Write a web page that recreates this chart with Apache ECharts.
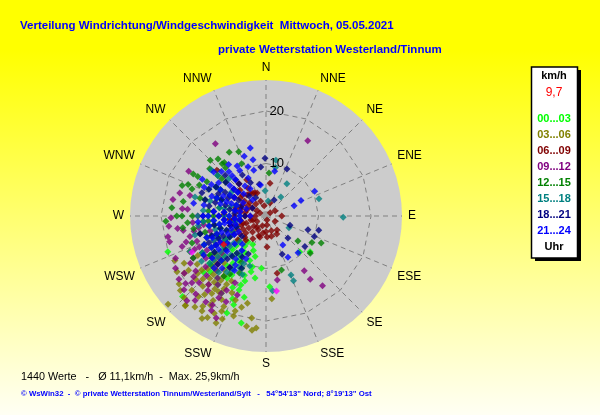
<!DOCTYPE html>
<html><head><meta charset="utf-8">
<script src="https://cdn.jsdelivr.net/npm/echarts@6/dist/echarts.min.js"></script>
<style>html,body{margin:0;padding:0;}#c{width:600px;height:415px;}</style>
</head><body><div id="c"></div>
<script>
// Direction labels (compass, clockwise from N)
const directions = ['N','NNE','NE','ENE','E','ESE','SE','SSE','S','SSW','SW','WSW','W','WNW','NW','NNW'];
// Time groups (legend)
const groupLabels = ['00...03','03...06','06...09','09...12','12...15','15...18','18...21','21...24'];
const groupColors = ['#00ff00','#808000','#800000','#800080','#008000','#008080','#000080','#0000ff'];
// Each point: [speed km/h, direction deg]
const h00 = [[9.4,137],[10.8,129],[13.5,177],[20.9,193],[19.9,202],[19.9,250],[22.1,226],
 [8,210],[9,200],[10,195],[11,205],[12,215],[13,210],[14,200],[15,205],[16,195],[10,220],[12,225],[14,222],[8,225],
 [7,215],[9,235],[11,240],[13,235],[15,218],[17,210],[18,200],[6,205],[10,185],[12,190],[16,228],[11,215],[7,228],[9,218],[13,198],
 [7,200],[8,195],[9,212],[11,195],[12,200],[14,212],[15,200],[9,225],[10,232],[12,218],[14,230],
 [6,215],[10,212],[16,215],[17,202],[11,228],[15,225],[8,240],[10,248]];
const h03 = [[19.3,244],[21.6,229],[25.1,228],[22.9,222],[21.8,214],[21.3,203],[21.4,185],[21.3,190],[15.8,176],[22.3,210],[22.5,205],[21.9,187],[19.6,188],
 [14,225],[15,215],[16,210],[17,220],[18,228],[19,235],[20,225],[16,235],[17,200],[18,195],[19,205],[20,212],[15,240],[13,218],[14,208],[18,215],
 [20,198],[17,230],[12,232],[16,222],[19,218],[21,232],[18,240],[22,218],[23,212],[17,192],[16,204],
 [15,228],[16,218],[17,212],[18,222],[19,212],[20,220],[21,215],[14,215],[15,222],[16,230],[17,225],[18,208],[19,198],[20,205],[21,208],
 [13,228],[14,238],[16,245],[18,235],[20,238],[22,225],[23,222],[12,222],[15,210],[17,215]];
const h06 = [[5.3,325],[4.7,339],[1.0,53],[0.8,166],[3.3,190],[3.4,142],[3.8,288],[5.0,277],[2.6,253],[4.0,177],[2.6,17],[1.3,297],[4.6,253],[6.3,263],
 [7.8,332],[6.3,7],[12.8,313],[4.0,149],[6.3,327],[4.9,334],[5.4,318],[2.7,219],[4.2,196],[5.9,178],[5.7,225],[11.1,169],[1.7,174],
 [3,300],[4,310],[5,295],[6,305],[7,315],[2,240],[3,230],[4,235],[5,240],[6,245],[7,255],[3,160],[2,120],[4,200],[5,210],[6,220],[7,230],[8,320],
 [3,340],[2,350],[6,285],[7,300],[3,90],[2,60],[4,270],[5,262],[3,255],
 [3,270],[4,280],[5,285],[6,290],[4,250],[5,250],[6,255],[5,230],[6,235],[4,220],[3,210],[2,200],[3,180],[4,165],[2,300],[4,300],[5,305],
 [6,312],[3,320],[5,330],[7,265],[8,272],[6,270],[7,245],[2,270]];
const h09 = [[16.8,325],[16.4,29],[18.1,269],[19.1,258],[19.9,240],[20.5,234],[22.1,223],[20.8,210],[21.6,206],[19.8,211],[12.7,145],[14.7,145],[17.1,141],[12.4,170],[18.6,264],
 [12,250],[13,240],[14,235],[15,230],[16,225],[17,220],[18,230],[19,245],[15,255],[16,260],[14,265],[17,250],[13,225],[12,215],[11,230],[10,240],
 [11,255],[13,270],[15,275],[16,215],[18,218],[19,228],[17,238],[14,245],[12,262],[10,250],[20,215],[21,220],[18,205],[16,200],[9,232],[15,285],
 [17,300],[14,205],[17,285],[16,275],[18,280],
 [13,255],[14,250],[15,245],[16,240],[17,232],[18,225],[19,235],[20,230],[21,228],[12,240],[13,232],[14,222],[15,218],[16,208],[17,210],[18,210],
 [11,245],[12,228],[19,255],[17,262],[16,252],[14,258],[13,260],[20,222]];
const h12 = [[13.3,337],[14.2,320],[12.9,322],[16.0,292],[19.1,267],[8.2,4],[7.7,128],[10.1,120],[11.7,116],[11.0,130],[10.7,164],
 [9,280],[10,290],[11,300],[12,310],[13,320],[14,330],[15,300],[16,280],[17,270],[10,260],[12,265],[14,270],[16,262],[11,250],[13,245],[15,250],
 [9,240],[12,235],[14,228],[10,310],[15,315],[17,290],[13,285],[8,300],[18,275],[11,335],[12,225],[16,240],[14,215],[12,205],
 [10,270],[11,275],[12,285],[13,300],[14,310],[9,290],[10,300],[11,310],[12,320],[13,255],[14,260],[15,265],[16,270],[11,265],[12,255],[13,235],
 [14,240],[10,250],[9,255],[15,290],[16,300],[14,295],[10,208],[13,212]];
const h15 = [[10.8,10],[7.3,33],[4.8,358],[2.9,8],[4.6,38],[10.6,72],[14.7,91],[13.6,310],[4.9,117],[9.4,11],[13.4,157],[12.2,157],[14.3,175],
 [6,250],[7,260],[8,270],[9,280],[10,290],[11,300],[12,310],[8,240],[10,245],[12,250],[14,255],[9,230],[11,225],[13,230],[15,235],[7,225],
 [10,265],[12,275],[14,285],[5,270],[6,290],[8,305],[10,315],[11,270],[13,262],[9,255],[11,245],[16,245],[14,220],[12,212],[10,205],[8,215],
 [7,245],[8,250],[9,260],[10,255],[11,260],[12,265],[13,270],[7,270],[8,280],[9,290],[10,300],[11,285],[12,295],[9,240],[10,235],[11,232],
 [12,240],[13,245],[14,240],[8,230],[10,222],[12,230],[6,260],[7,285],[9,212],[11,208],[13,215],[10,198],[12,202],[14,230]];
const h18 = [[11.0,359],[9.8,24],[9.4,354],[6.2,348],[3.4,27],[8.4,108],[10.4,105],[10.0,113],[5.9,135],[4.9,111],[7.9,157],[9.4,128],
 [5,290],[6,300],[7,310],[8,320],[9,330],[4,270],[6,265],[8,275],[10,285],[12,295],[7,255],[9,245],[11,240],[5,320],[7,335],[9,300],[11,315],
 [13,290],[10,260],[8,240],[6,230],[12,270],[3,300],[4,330],[10,230],[12,235],[8,295],[6,280],[13,255],[9,218],[11,222],
 [6,250],[7,260],[8,265],[9,270],[10,275],[11,280],[12,285],[5,260],[6,275],[7,280],[8,285],[9,290],[10,295],[11,300],[7,300],[8,310],
 [9,320],[10,310],[7,240],[8,250],[9,255],[10,245],[11,250],[12,245],[9,210],[10,220],[12,215],[8,205],[11,205],[13,225]];
const h21 = [[13.3,347],[12.1,340],[11.0,347],[12.1,324],[5.7,70],[7.3,66],[10.4,63],[8.7,11],[6.4,150],[8.9,152],[9.3,139],
 [6,280],[7,290],[8,300],[9,310],[10,320],[11,330],[5,300],[6,315],[7,325],[8,335],[9,345],[10,300],[11,290],[12,280],[9,270],[8,260],[7,250],
 [6,240],[10,250],[11,260],[12,300],[13,310],[4,320],[5,260],[8,275],[9,285],[10,275],[11,305],[7,310],[6,330],[9,235],[10,228],[12,225],[13,232],
 [11,240],[14,238],[8,228],[12,250],[13,265],[14,280],[6,350],[4,290],[3,270],[5,280],[7,270],[13,295],[14,300],[10,340],[12,315],
 [5,270],[6,265],[7,260],[8,265],[9,260],[10,265],[11,270],[12,270],[6,290],[7,300],[8,290],[9,295],[10,290],[8,310],[9,320],[10,330],
 [11,320],[7,240],[8,245],[9,250],[10,240],[11,248],[12,240],[6,255],[11,235],[13,245],[8,215],[10,215],[12,210],[9,205],[11,212],[13,220],[7,220],[14,225]];
const extraMagenta = [[14.4,172],[15.7,244]];
const currentValue = [[9.7,236]];
const groups = [h00,h03,h06,h09,h12,h15,h18,h21];
const radiusTicks = [10,20];
const maxSpeed = 25.9;
const titleText = 'Verteilung Windrichtung/Windgeschwindigkeit  Mittwoch, 05.05.2021';
const subtitleText = 'private Wetterstation Westerland/Tinnum';
const statsText = '1440 Werte   -   Ø 11,1km/h  -  Max. 25,9km/h';
const footerText = '© WsWin32  -  © private Wetterstation Tinnum/Westerland/Sylt   -   54°54\'13" Nord; 8°19\'13" Ost';
const unitText = 'km/h', currentText = '9,7', hourText = 'Uhr';

const CX = 266, CY = 216, R = 136;
const chart = echarts.init(document.getElementById('c'), null, {renderer:'canvas'});
const FONT = '"Liberation Sans", Arial, sans-serif';
const series = [];

// disc, spokes and polygon rings, drawn through the polar coordinate system
series.push({
  type:'custom', coordinateSystem:'polar', data:[[0,0]], z:0, silent:true, clip:false,
  renderItem:(params, api)=>{
    const P = v=>{const p = api.coord(v); return [p[0],p[1]];};
    const c = P([0,0]);
    const e = P([maxSpeed,0]);
    const rPx = Math.hypot(e[0]-c[0], e[1]-c[1]);
    const dash = ()=>({stroke:'#808080',lineWidth:1,lineDash:[5,4],fill:'none'});
    const children = [{type:'circle',shape:{cx:c[0],cy:c[1],r:rPx},style:{fill:'#cccccc'}}];
    directions.forEach((d,i)=>{
      const p = P([maxSpeed,i*22.5]);
      children.push({type:'line',shape:{x1:c[0],y1:c[1],x2:p[0],y2:p[1]},style:dash()});
    });
    radiusTicks.forEach(r=>{
      const pts = directions.map((d,i)=>P([r,i*22.5]));
      pts.push(pts[0]);
      children.push({type:'polyline',shape:{points:pts},style:dash()});
    });
    children.push({type:'rect',shape:{x:c[0]-4,y:c[1]-4,width:7,height:6},style:{fill:'#a0a0a0'}});
    return {type:'group',children:children};
  }
});
groups.forEach((g,i)=>series.push({
  type:'scatter', coordinateSystem:'polar', name:groupLabels[i], data:g,
  symbol:'diamond', symbolSize:7, itemStyle:{color:groupColors[i]}, z:3, silent:true
}));
series.push({type:'scatter',coordinateSystem:'polar',data:extraMagenta,symbol:'diamond',symbolSize:7,itemStyle:{color:'#ff00ff'},z:3});
series.push({type:'scatter',coordinateSystem:'polar',data:currentValue,symbol:'diamond',symbolSize:7,itemStyle:{color:'#ff0000'},z:4});

const legendTexts = [];
legendTexts.push({type:'text',style:{text:unitText,x:554,y:76,font:'bold 11px '+FONT,fill:'#000',textAlign:'center',textVerticalAlign:'middle'}});
legendTexts.push({type:'text',style:{text:currentText,x:554,y:92.5,font:'12px '+FONT,fill:'#ff0000',textAlign:'center',textVerticalAlign:'middle'}});
groupLabels.forEach((l,i)=>legendTexts.push({type:'text',style:{text:l,x:554,y:119.3+i*15.9,font:'bold 11px '+FONT,fill:groupColors[i],textAlign:'center',textVerticalAlign:'middle'}}));
legendTexts.push({type:'text',style:{text:hourText,x:554,y:247,font:'bold 11px '+FONT,fill:'#000',textAlign:'center',textVerticalAlign:'middle'}});

chart.setOption({
  animation:false,
  backgroundColor:{type:'linear',x:0,y:0,x2:0,y2:1,colorStops:[{offset:0,color:'#ffff00'},{offset:0.12,color:'#ffff00'},{offset:1,color:'#fffff4'}]},
  polar:{center:[CX,CY],radius:R},
  angleAxis:{type:'value',min:0,max:360,interval:22.5,startAngle:90,clockwise:true,z:1,
    axisLine:{show:false},axisTick:{show:false},
    axisLabel:{margin:6,color:'#000',fontSize:12,fontFamily:FONT,formatter:v=>v>=360?'':directions[Math.round(v/22.5)%16]},
    splitLine:{show:false},splitArea:{show:false}},
  radiusAxis:{type:'value',min:0,max:maxSpeed,interval:10,z:5,
    axisLine:{show:false},axisTick:{show:false},splitLine:{show:false},
    axisLabel:{show:true,color:'#000',fontSize:13,fontFamily:FONT,margin:-18,formatter:v=>radiusTicks.includes(v)?String(v):''}},
  series:series,
  graphic:[
    {type:'text',style:{text:titleText,x:20,y:26,font:'bold 11.5px '+FONT,fill:'#0000ff',textVerticalAlign:'middle'}},
    {type:'text',style:{text:subtitleText,x:218,y:50,font:'bold 11.5px '+FONT,fill:'#0000ff',textVerticalAlign:'middle'}},
    {type:'rect',shape:{x:535,y:70,width:46,height:191},style:{fill:'#000'}},
    {type:'rect',shape:{x:531.5,y:67,width:46,height:191},style:{fill:'#fff',stroke:'#000',lineWidth:1.5}},
    ...legendTexts,
    {type:'text',style:{text:statsText,x:21,y:377,font:'10.8px '+FONT,fill:'#000',textVerticalAlign:'middle'}},
    {type:'text',style:{text:footerText,x:21,y:394,font:'bold 7.8px '+FONT,fill:'#0000ff',textVerticalAlign:'middle'}}
  ]
});
</script></body></html>
